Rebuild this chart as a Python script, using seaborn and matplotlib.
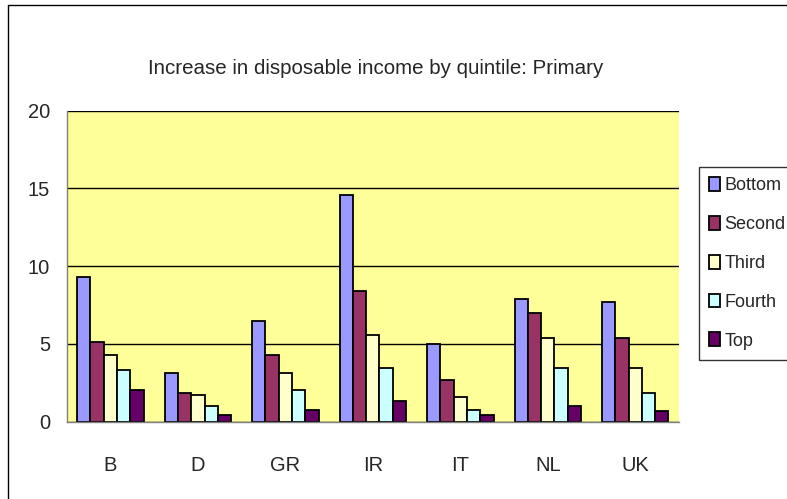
import numpy as np
import pandas as pd
import seaborn as sns
import matplotlib.pyplot as plt
from matplotlib.lines import Line2D

# Chart data
countries = ['B', 'D', 'GR', 'IR', 'IT', 'NL', 'UK']
quintiles = ['Bottom', 'Second', 'Third', 'Fourth', 'Top']
bottom = [9.3, 3.1, 6.5, 14.6, 5.0, 7.9, 7.7]
second = [5.1, 1.85, 4.3, 8.4, 2.65, 7.0, 5.35]
third = [4.3, 1.7, 3.1, 5.6, 1.6, 5.35, 3.45]
fourth = [3.35, 1.0, 2.05, 3.45, 0.78, 3.45, 1.85]
top = [2.05, 0.43, 0.78, 1.35, 0.43, 1.0, 0.68]
colors = ['#9999FF', '#993366', '#FFFFCC', '#CCFFFF', '#660066']

# Long format table for seaborn
df = pd.DataFrame({
    'country': countries * 5,
    'quintile': np.repeat(quintiles, len(countries)),
    'value': bottom + second + third + fourth + top,
})

sns.set_style('white')
plt.rcParams['font.family'] = ['Liberation Sans', 'DejaVu Sans']

fig = plt.figure(figsize=(7.87, 4.99), dpi=100)
ax = fig.add_axes([0.0847, 0.155, 0.778, 0.623])

sns.barplot(df, x='country', y='value', hue='quintile', hue_order=quintiles,
            palette=colors, width=0.76, edgecolor='black', linewidth=1.3,
            saturation=1, ax=ax)

ax.set_facecolor('#FFFF99')
ax.set_ylim(0, 20)
ax.set_xlim(-0.5, len(countries) - 0.5)
ax.set_yticks([0, 5, 10, 15, 20])
ax.yaxis.grid(True, color='black', linewidth=1)
ax.set_axisbelow(True)
ax.set_xlabel('')
ax.set_ylabel('')
for side in ['top', 'right']:
    ax.spines[side].set_visible(False)
for side in ['left', 'bottom']:
    ax.spines[side].set_color('#808080')
    ax.spines[side].set_linewidth(1)

# Excel style ticks: boundaries marked, labels centred
ax.set_xticks(np.arange(-0.5, len(countries), 1), minor=True)
ax.tick_params(axis='x', which='minor', length=7, color='#808080', direction='out')
ax.tick_params(axis='x', which='major', length=0, labelsize=14.5, pad=25)
ax.tick_params(axis='y', length=6, color='#808080', direction='out', labelsize=14.5, pad=6)

# Legend on the right, running to the figure edge
handles, labels = ax.get_legend_handles_labels()
ax.get_legend().remove()
leg = fig.legend(handles, labels, loc='upper left', bbox_to_anchor=(0.888, 0.665),
                 frameon=True, fontsize=13, handlelength=0.6, handleheight=0.8,
                 handletextpad=0.25, labelspacing=1.2, borderpad=0.55,
                 borderaxespad=0, fancybox=False)
leg.get_frame().set_edgecolor('black')
leg.get_frame().set_linewidth(1)

fig.text(0.477, 0.862, 'Increase in disposable income by quintile: Primary',
         ha='center', va='center', fontsize=14.8)

# Chart area border (left and top visible)
fig.add_artist(Line2D([0.0102, 0.0102], [0, 0.99], color='black', linewidth=1))
fig.add_artist(Line2D([0.0102, 1], [0.99, 0.99], color='black', linewidth=1))

fig.savefig('out.png', dpi=100)
